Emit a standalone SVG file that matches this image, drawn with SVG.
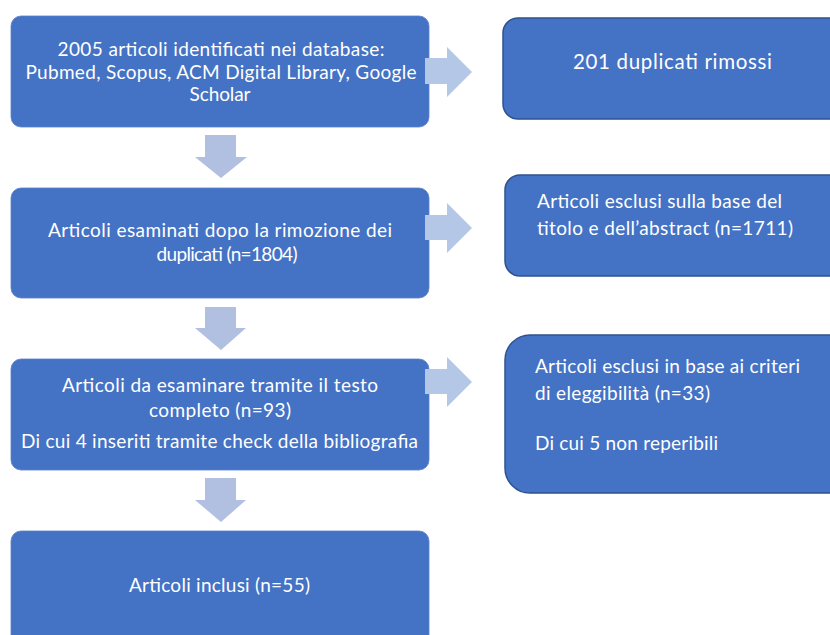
<svg xmlns="http://www.w3.org/2000/svg" width="830" height="635" viewBox="0 0 830 635">
<style>
.lbox{fill:#4472C4;stroke:#5B82CC;stroke-width:0.8}
.rbox{fill:#4472C4;stroke:#2F528F;stroke-width:1.5}
.t{font-family:Lato,"Open Sans",sans-serif;font-size:19px;fill:#FFFFFF}
.big{font-size:20.5px}
.c{text-anchor:middle}
.ha{fill:#B4C7E7}
.va{fill:#B1BFE0}
</style>
<rect width="830" height="635" fill="#FFFFFF"/>
<g id="connectors">
<path class="va" d="M205,135 H236 V157 H247 L221,178 L195,157 H205 Z"/>
<path class="va" d="M205,307 H236 V328 H246 L221,350 L195,328 H205 Z"/>
<path class="va" d="M205,478 H236 V500 H246 L221,522 L195,500 H205 Z"/>
</g>
<g id="n1">
<rect class="lbox" x="11" y="16" width="418" height="111" rx="10"/>
<text class="t c" x="221" y="56" textLength="327">2005 articoli identificati nei database:</text>
<text class="t c" x="221" y="78.5" textLength="391">Pubmed, Scopus, ACM Digital Library, Google</text>
<text class="t c" x="220" y="101" textLength="61">Scholar</text>
</g>
<g id="n2">
<rect class="lbox" x="11" y="188" width="418" height="110" rx="10"/>
<text class="t c" x="220" y="237" textLength="344">Articoli esaminati dopo la rimozione dei</text>
<text class="t c" x="227" y="261" textLength="141">duplicati (n=1804)</text>
</g>
<g id="n3">
<rect class="lbox" x="11" y="359" width="418" height="111" rx="10"/>
<text class="t c" x="220" y="392" textLength="316">Articoli da esaminare tramite il testo</text>
<text class="t c" x="220" y="417" textLength="142">completo (n=93)</text>
<text class="t c" x="219.5" y="448" textLength="397">Di cui 4 inseriti tramite check della bibliografia</text>
</g>
<g id="n4">
<rect class="lbox" x="11" y="531" width="418" height="140" rx="10"/>
<text class="t c" x="219.5" y="592" textLength="181">Articoli inclusi (n=55)</text>
</g>
<g id="h-connectors">
<path class="ha" d="M425,58 H447 V47 L472,72 L447,97 V84 H425 Z"/>
<path class="ha" d="M425,215 H447 V203 L472,228 L447,253 V240 H425 Z"/>
<path class="ha" d="M425,369 H447 V357 L472,382 L447,407 V394 H425 Z"/>
</g>
<g id="r1">
<rect class="rbox" x="503" y="18" width="400" height="101" rx="15"/>
<text class="t big c" x="672.5" y="69" textLength="199">201 duplicati rimossi</text>
</g>
<g id="r2">
<rect class="rbox" x="505" y="175" width="400" height="101" rx="15"/>
<text class="t" x="537" y="208" textLength="245">Articoli esclusi sulla base del</text>
<text class="t" x="537" y="235" textLength="256">titolo e dell’abstract (n=1711)</text>
</g>
<g id="r3">
<rect class="rbox" x="505" y="335" width="400" height="158" rx="25"/>
<text class="t" x="535" y="373" textLength="265">Articoli esclusi in base ai criteri</text>
<text class="t" x="535" y="400" textLength="175">di eleggibilità (n=33)</text>
<text class="t" x="535" y="450" textLength="183">Di cui 5 non reperibili</text>
</g>
</svg>
